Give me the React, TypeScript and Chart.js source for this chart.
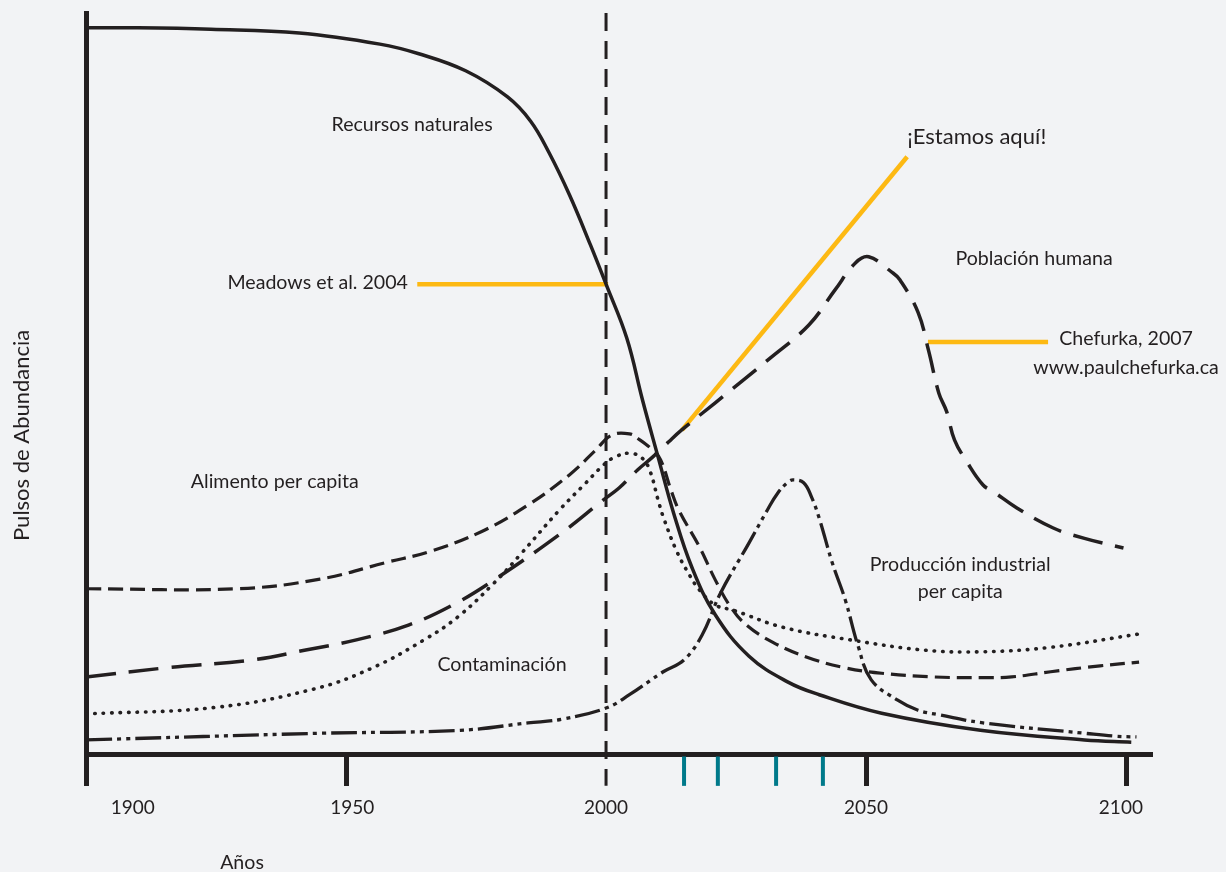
import { useEffect, useRef } from "react";
import { Chart, registerables } from "chart.js";

Chart.register(...registerables);

// ---------- data (years / "abundance" 0-100) ----------
const RECURSOS_YEARS = [1900, 1910, 1924, 1941, 1956.5, 1964, 1973, 1981, 1985.5, 1989, 1993, 1997, 2000, 2004, 2007, 2010, 2013, 2016.5, 2021, 2027.5, 2035, 2041, 2053, 2072, 2092, 2101];
const RECURSOS = [98.0, 98.0, 97.8, 97.3, 95.8, 94.5, 92.2, 88.7, 85.4, 81.2, 75.4, 68.7, 63.4, 56.1, 47.8, 40.1, 32.5, 25.2, 18.8, 13.2, 9.7, 8.0, 5.5, 3.2, 1.9, 1.6];

const POBLACION_YEARS = [1900, 1915, 1932, 1942, 1952, 1962, 1970.5, 1978.5, 1991, 1999.5, 2002.5, 2006, 2009, 2012, 2014.5, 2021, 2031.5, 2039, 2044, 2048, 2050.5, 2055, 2056.5, 2060, 2062, 2064, 2065.5, 2067, 2069.5, 2072.5, 2074.5, 2079, 2086, 2092, 2099.5];
const POBLACION = [10.4, 11.6, 12.7, 14.0, 15.4, 17.4, 20.1, 23.5, 29.6, 34.3, 35.9, 38.3, 40.1, 42.1, 43.7, 47.4, 53.4, 57.9, 62.6, 66.3, 67.1, 65.0, 64.0, 59.6, 54.5, 48.7, 46.2, 42.4, 39.3, 36.3, 35.4, 33.2, 30.5, 29.1, 27.8];

const ALIMENTO_YEARS = [1900, 1929, 1945, 1958, 1966, 1976, 1985, 1993, 1998, 2001, 2004.5, 2006.5, 2009, 2010.5, 2012.5, 2014, 2018, 2021, 2024, 2027, 2032, 2038.5, 2045.5, 2053, 2063, 2072.5, 2078, 2085.5, 2095, 2102.5];
const ALIMENTO = [22.3, 22.3, 23.6, 25.9, 27.3, 30.0, 33.6, 37.7, 41.0, 43.0, 43.2, 42.4, 41.0, 39.7, 35.6, 32.9, 27.9, 23.5, 19.8, 17.4, 15.1, 13.1, 11.7, 10.9, 10.4, 10.3, 10.4, 11.1, 11.9, 12.4];

const CONTAMINACION_YEARS = [1900, 1925, 1944, 1955, 1965, 1971.5, 1978.5, 1983.5, 1991, 1996, 1999.5, 2001.5, 2004.5, 2007, 2008.5, 2010, 2011, 2013.5, 2016, 2018, 2021, 2024.5, 2034, 2047, 2061.5, 2072.5, 2085.5, 2102.5];
const CONTAMINACION = [5.4, 6.3, 8.8, 11.6, 15.4, 18.5, 23.1, 26.9, 32.9, 36.5, 39.0, 40.0, 40.6, 39.9, 38.1, 34.3, 32.0, 27.5, 24.2, 22.1, 20.1, 19.4, 17.1, 15.4, 14.0, 13.8, 14.4, 16.2];

const PRODUCCION_YEARS = [1900, 1945, 1972, 1985, 1991.5, 2000, 2004.5, 2011, 2015, 2018.5, 2022, 2027.5, 2031, 2033, 2035, 2036, 2038, 2039.5, 2041, 2043.5, 2046, 2048.5, 2051, 2056, 2060, 2064, 2072.5, 2092, 2098, 2102];
const PRODUCCION = [1.9, 2.8, 3.2, 4.2, 4.7, 6.2, 8.0, 11.1, 12.7, 16.1, 21.7, 28.5, 32.9, 35.2, 36.7, 37.0, 36.6, 34.7, 31.8, 25.8, 20.8, 14.5, 10.0, 7.3, 5.9, 5.3, 4.2, 2.8, 2.4, 2.3];

const X_TICKS = [1900, 1950, 2000, 2050, 2100];
const X_TICK_LABELS = ["1900", "1950", "2000", "2050", "2100"];
const TEAL_TICK_YEARS = [2015, 2021.5, 2032.7, 2041.7];
const NOW_YEAR = 2000;

// annotation pointer lines (year, value)
const MEADOWS_LINE = [[1963.7, 63.4], [2000.4, 63.4]];
const ESTAMOS_LINE = [[2014.6, 43.7], [2057.9, 80.6]];
const CHEFURKA_LINE = [[2061.9, 55.6], [2085, 55.6]];

// ---------- styles ----------
const DARK = "#231F20";
const ORANGE = "#FDB913";
const TEAL = "#00798A";
const BG = "#F2F3F5";
const FONT = "Lato, 'Open Sans', sans-serif";
const LS = 19.6;

type Lbl = { text: string; x: number; y: number; size: number; align: CanvasTextAlign; rotate?: boolean };
const TEXT_LABELS: Lbl[] = [
  { text: "Recursos naturales", x: 1962.7, y: 84.9, size: LS, align: "center" },
  { text: "Meadows et al. 2004", x: 1961.9, y: 63.6, size: LS, align: "right" },
  { text: "¡Estamos aquí!", x: 2071.3, y: 83.3, size: 22, align: "center" },
  { text: "Población humana", x: 2082.3, y: 66.9, size: LS, align: "center" },
  { text: "Chefurka, 2007", x: 2100, y: 56.0, size: LS, align: "center" },
  { text: "www.paulchefurka.ca", x: 2100, y: 52.2, size: LS, align: "center" },
  { text: "Alimento per capita", x: 1936.3, y: 36.8, size: LS, align: "center" },
  { text: "Producción industrial", x: 2068.1, y: 25.5, size: LS, align: "center" },
  { text: "per capita", x: 2068.1, y: 21.9, size: LS, align: "center" },
  { text: "Contaminación", x: 1980, y: 12.0, size: LS, align: "center" },
  { text: "Años", x: 1930, y: -14.7, size: LS, align: "center" },
  { text: "Pulsos de Abundancia", x: 1887.7, y: 43.0, size: 22, align: "center", rotate: true },
];
const TICK_LABEL_POS = [1909, 1951.2, 2000, 2050, 2099];

const pts = (xs: number[], ys: number[]) => xs.map((x, i) => ({ x, y: ys[i] }));
const seg = (p: number[][]) => p.map(([x, y]) => ({ x, y }));

export default function App() {
  const ref = useRef<HTMLCanvasElement>(null);

  useEffect(() => {
    const bgPlugin = {
      id: "bg",
      beforeDraw(chart: any) {
        const c = chart.ctx;
        c.save();
        c.fillStyle = BG;
        c.fillRect(0, 0, chart.width, chart.height);
        c.restore();
      },
    };
    const textPlugin = {
      id: "texts",
      afterDraw(chart: any) {
        const c = chart.ctx;
        const xs = chart.scales.x;
        const ys = chart.scales.y;
        c.save();
        c.strokeStyle = TEAL;
        c.lineWidth = 4;
        TEAL_TICK_YEARS.forEach((yr) => {
          const px = xs.getPixelForValue(yr);
          c.beginPath();
          c.moveTo(px, ys.getPixelForValue(0) + 2.5);
          c.lineTo(px, ys.getPixelForValue(-4.3));
          c.stroke();
        });
        c.fillStyle = DARK;
        c.textBaseline = "middle";
        c.font = `19px ${FONT}`;
        c.textAlign = "center";
        X_TICK_LABELS.forEach((t, i) => {
          c.fillText(t, xs.getPixelForValue(TICK_LABEL_POS[i]), ys.getPixelForValue(-7.3));
        });
        TEXT_LABELS.forEach((l) => {
          c.font = `${l.size}px ${FONT}`;
          c.textAlign = l.align;
          const px = xs.getPixelForValue(l.x);
          const py = ys.getPixelForValue(l.y);
          if (l.rotate) {
            c.save();
            c.translate(px, py);
            c.rotate(-Math.PI / 2);
            c.fillText(l.text, 0, 0);
            c.restore();
          } else {
            c.fillText(l.text, px, py);
          }
        });
        c.restore();
      },
    };

    const base = {
      borderColor: DARK,
      pointRadius: 0,
      fill: false,
      tension: 0.4,
      borderCapStyle: "butt" as const,
    };
    const straight = { ...base, tension: 0 };

    const chart = new Chart(ref.current as HTMLCanvasElement, {
      type: "line",
      data: {
        datasets: [
          { ...base, label: "Recursos naturales", data: pts(RECURSOS_YEARS, RECURSOS), borderWidth: 3.5 },
          { ...base, label: "Población humana", data: pts(POBLACION_YEARS, POBLACION), borderWidth: 3.5, borderDash: [30, 13] },
          { ...base, label: "Alimento per capita", data: pts(ALIMENTO_YEARS, ALIMENTO), borderWidth: 3.2, borderDash: [15, 7] },
          { ...base, label: "Contaminación", data: pts(CONTAMINACION_YEARS, CONTAMINACION), borderWidth: 3.6, borderDash: [0.5, 8], borderCapStyle: "round" as const },
          { ...base, label: "Producción industrial per capita", data: pts(PRODUCCION_YEARS, PRODUCCION), borderWidth: 3.3, borderDash: [26, 5, 4, 5, 4, 5] },
          { ...straight, label: "Ahora", data: [{ x: NOW_YEAR, y: 100 }, { x: NOW_YEAR, y: -4.3 }], borderWidth: 3, borderDash: [18, 10], clip: false as any },
          { ...straight, label: "Meadows", data: seg(MEADOWS_LINE), borderColor: ORANGE, borderWidth: 4.5, order: 5 },
          { ...straight, label: "Estamos", data: seg(ESTAMOS_LINE), borderColor: ORANGE, borderWidth: 4.5, order: 5 },
          { ...straight, label: "Chefurka", data: seg(CHEFURKA_LINE), borderColor: ORANGE, borderWidth: 4.5, order: 5 },
        ],
      },
      options: {
        responsive: false,
        animation: false,
        events: [],
        layout: { padding: { top: 13, right: 76, left: 0, bottom: 0 } },
        plugins: { legend: { display: false }, tooltip: { enabled: false } },
        scales: {
          x: {
            type: "linear",
            min: 1900,
            max: 2104.6,
            border: { display: true, color: DARK, width: 5 },
            grid: {
              drawOnChartArea: false,
              drawTicks: true,
              tickLength: 32,
              tickWidth: 5,
              lineWidth: 5,
              tickColor: (ctx: any) => (ctx.tick && ctx.tick.value === NOW_YEAR ? "rgba(0,0,0,0)" : DARK),
              color: DARK,
            },
            ticks: { display: false, stepSize: 50, includeBounds: false },
            afterBuildTicks: (s: any) => {
              s.ticks = X_TICKS.map((v) => ({ value: v }));
            },
            afterFit: (s: any) => {
              s.height = 118;
            },
          },
          y: {
            type: "linear",
            min: 0,
            max: 100,
            border: { display: true, color: DARK, width: 5 },
            grid: { display: false, drawTicks: false },
            ticks: { display: false },
            afterFit: (s: any) => {
              s.width = 86;
            },
          },
        },
      } as any,
      plugins: [bgPlugin, textPlugin],
    });
    return () => chart.destroy();
  }, []);

  return (
    <div style={{ position: "absolute", left: 0, top: 0, width: 1226, height: 872, background: BG }}>
      <canvas ref={ref} width={1226} height={872} style={{ display: "block" }} />
    </div>
  );
}
